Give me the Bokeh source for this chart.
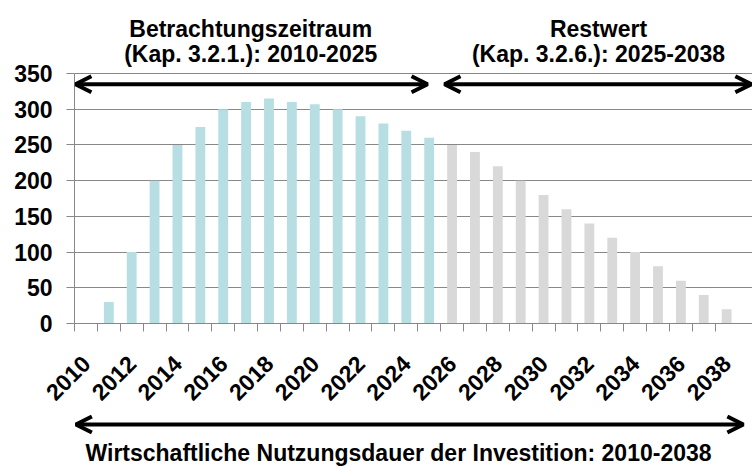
from bokeh.plotting import figure
from bokeh.models import Range1d, FixedTicker, Label, Arrow, OpenHead
from bokeh.layouts import column
from bokeh.embed import file_html
from bokeh.resources import INLINE
from math import pi

# ---- data ----
years_period = [2010, 2011, 2012, 2013, 2014, 2015, 2016, 2017, 2018, 2019, 2020, 2021, 2022, 2023, 2024, 2025]
values_period = [0, 30, 100, 200, 250, 275, 300, 310, 315, 310, 307, 300, 290, 280, 270, 260]
years_rest = [2026, 2027, 2028, 2029, 2030, 2031, 2032, 2033, 2034, 2035, 2036, 2037, 2038]
values_rest = [250, 240, 220, 200, 180, 160, 140, 120, 100, 80, 60, 40, 20]
y_ticks = [0, 50, 100, 150, 200, 250, 300, 350]
x_label_years = list(range(2010, 2039, 2))

title_left = ["Betrachtungszeitraum", "(Kap. 3.2.1.): 2010-2025"]
title_right = ["Restwert", "(Kap. 3.2.6.): 2025-2038"]
title_bottom = "Wirtschaftliche Nutzungsdauer der Investition: 2010-2038"

FONT = "Liberation Sans"
FS = "23px"
BLUE = "#b7dee2"
GREY = "#d9d9d9"
GRIDC = "#888888"

all_years = years_period + years_rest

# main figure: frame spans from top of page down to the zero line (y = 323 px)
p = figure(width=752, height=414, output_backend="svg", toolbar_location=None,
           x_range=Range1d(2009.5, 2039.13), y_range=Range1d(0, 452.2),
           min_border_left=74, min_border_right=0, min_border_top=0, min_border_bottom=91)
p.outline_line_color = None
p.background_fill_color = "white"
p.border_fill_color = "white"

p.vbar(x=years_period, top=values_period, width=0.43, fill_color=BLUE, line_color=None)
p.vbar(x=years_rest, top=values_rest, width=0.43, fill_color=GREY, line_color=None)

# y axis
p.yaxis.ticker = FixedTicker(ticks=y_ticks)
p.yaxis.bounds = (0, 350)
p.yaxis.major_tick_out = 8
p.yaxis.major_tick_in = 0
p.yaxis.minor_tick_out = 0
p.yaxis.minor_tick_in = 0
p.yaxis.axis_line_color = GRIDC
p.yaxis.major_tick_line_color = GRIDC
p.yaxis.major_label_standoff = 14
p.yaxis.major_label_text_font = FONT
p.yaxis.major_label_text_font_style = "bold"
p.yaxis.major_label_text_font_size = FS
p.yaxis.major_label_text_color = "black"

# x axis: labels at even years, tick marks at category boundaries
p.xaxis.ticker = FixedTicker(ticks=x_label_years, minor_ticks=[y - 0.5 for y in all_years])
p.xaxis.major_tick_out = 0
p.xaxis.major_tick_in = 0
p.xaxis.minor_tick_out = 8
p.xaxis.minor_tick_in = 0
p.xaxis.minor_tick_line_color = GRIDC
p.xaxis.axis_line_color = GRIDC
p.xaxis.major_label_orientation = pi / 4
p.xaxis.major_label_standoff = 28
p.xaxis.major_label_text_font = FONT
p.xaxis.major_label_text_font_style = "bold"
p.xaxis.major_label_text_font_size = FS
p.xaxis.major_label_text_color = "black"

p.xgrid.grid_line_color = None
p.ygrid.ticker = FixedTicker(ticks=y_ticks)
p.ygrid.grid_line_color = GRIDC
p.ygrid.grid_line_width = 1


def add_arrow(fig, x0, x1, y):
    fig.add_layout(Arrow(x_start=x0, y_start=y, x_end=x1, y_end=y,
                         start=OpenHead(size=16, line_width=4, line_color="black"),
                         end=OpenHead(size=16, line_width=4, line_color="black"),
                         line_width=4, line_color="black"))


def add_label(fig, x, y, text):
    fig.add_layout(Label(x=x, y=y, text=text, text_align="center", text_baseline="alphabetic",
                         text_font=FONT, text_font_style="bold", text_font_size=FS,
                         text_color="black"))


add_arrow(p, 2009.54, 2024.93, 335)
add_arrow(p, 2025.67, 2039.08, 335)
add_label(p, 2017.2, 413, title_left[0])
add_label(p, 2017.2, 377, title_left[1])
add_label(p, 2032.4, 413, title_right[0])
add_label(p, 2032.4, 377, title_right[1])

# bottom strip: overall life-time arrow and its caption (shares the year axis)
p2 = figure(width=752, height=52, output_backend="svg", toolbar_location=None,
            x_range=p.x_range, y_range=Range1d(0, 52),
            x_axis_location=None, y_axis_location=None,
            min_border_left=74, min_border_right=0, min_border_top=0, min_border_bottom=0)
p2.outline_line_color = None
p2.grid.grid_line_color = None
p2.background_fill_color = "white"
p2.border_fill_color = "white"

add_arrow(p2, 2009.56, 2038.73, 42)
add_label(p2, 2023.66, 14, title_bottom)

layout = column(p, p2, spacing=0)
open("out.html", "w").write(file_html(layout, INLINE))
